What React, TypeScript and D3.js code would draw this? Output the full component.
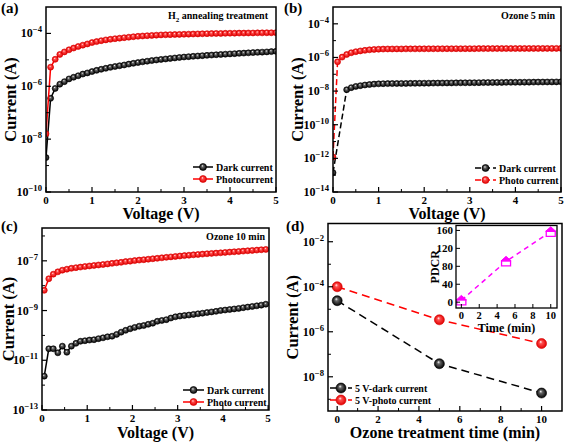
import React from "react";
import * as d3 from "d3";

const FONT = "'Liberation Serif','Times New Roman',Times,serif";

// ---------- data ----------
const voltageAB = [0, 0.1, 0.2, 0.3, 0.4, 0.5, 0.6, 0.7, 0.8, 0.9, 1.0, 1.1, 1.2, 1.3, 1.4, 1.5, 1.6, 1.7, 1.8, 1.9, 2.0, 2.1, 2.2, 2.3, 2.4, 2.5, 2.6, 2.7, 2.8, 2.9, 3.0, 3.1, 3.2, 3.3, 3.4, 3.5, 3.6, 3.7, 3.8, 3.9, 4.0, 4.1, 4.2, 4.3, 4.4, 4.5, 4.6, 4.7, 4.8, 4.9, 5.0];

const darkA = [2e-9, 3.5e-7, 8.3e-7, 1.2e-6, 1.5e-6, 1.9e-6, 2.2e-6, 2.5e-6, 2.9e-6, 3.2e-6, 3.6e-6, 4.0e-6, 4.4e-6, 4.8e-6, 5.2e-6, 5.6e-6, 6.0e-6, 6.4e-6, 6.9e-6, 7.4e-6, 7.9e-6, 8.4e-6, 8.9e-6, 9.4e-6, 9.9e-6, 1.04e-5, 1.08e-5, 1.13e-5, 1.18e-5, 1.23e-5, 1.28e-5, 1.32e-5, 1.36e-5, 1.40e-5, 1.44e-5, 1.48e-5, 1.52e-5, 1.56e-5, 1.60e-5, 1.64e-5, 1.68e-5, 1.72e-5, 1.76e-5, 1.80e-5, 1.84e-5, 1.88e-5, 1.92e-5, 1.96e-5, 2.0e-5, 2.05e-5, 2.1e-5];

const photoA = [1.6e-8, 5.3e-6, 1.05e-5, 1.6e-5, 2.0e-5, 2.4e-5, 2.8e-5, 3.2e-5, 3.6e-5, 4.0e-5, 4.5e-5, 4.9e-5, 5.3e-5, 5.7e-5, 6.0e-5, 6.3e-5, 6.6e-5, 6.9e-5, 7.2e-5, 7.5e-5, 7.8e-5, 8.0e-5, 8.2e-5, 8.4e-5, 8.6e-5, 8.8e-5, 8.9e-5, 9.0e-5, 9.1e-5, 9.2e-5, 9.3e-5, 9.4e-5, 9.5e-5, 9.6e-5, 9.7e-5, 9.8e-5, 9.9e-5, 1.0e-4, 1.0e-4, 1.01e-4, 1.02e-4, 1.02e-4, 1.03e-4, 1.03e-4, 1.04e-4, 1.04e-4, 1.05e-4, 1.05e-4, 1.06e-4, 1.06e-4, 1.07e-4];

const voltageBDark = [0, 0.3, 0.4, 0.5, 0.6, 0.7, 0.8, 0.9, 1.0, 1.1, 1.2, 1.3, 1.4, 1.5, 1.6, 1.7, 1.8, 1.9, 2.0, 2.1, 2.2, 2.3, 2.4, 2.5, 2.6, 2.7, 2.8, 2.9, 3.0, 3.1, 3.2, 3.3, 3.4, 3.5, 3.6, 3.7, 3.8, 3.9, 4.0, 4.1, 4.2, 4.3, 4.4, 4.5, 4.6, 4.7, 4.8, 4.9, 5.0];

const darkB = [1.4e-13, 1.2e-8, 1.6e-8, 1.9e-8, 2.1e-8, 2.3e-8, 2.45e-8, 2.6e-8, 2.7e-8, 2.75e-8, 2.78e-8, 2.8e-8, 2.82e-8, 2.84e-8, 2.86e-8, 2.88e-8, 2.9e-8, 2.92e-8, 2.94e-8, 2.96e-8, 2.98e-8, 3.0e-8, 3.02e-8, 3.04e-8, 3.06e-8, 3.08e-8, 3.1e-8, 3.12e-8, 3.14e-8, 3.16e-8, 3.18e-8, 3.2e-8, 3.22e-8, 3.24e-8, 3.26e-8, 3.28e-8, 3.3e-8, 3.32e-8, 3.34e-8, 3.36e-8, 3.38e-8, 3.4e-8, 3.42e-8, 3.44e-8, 3.46e-8, 3.48e-8, 3.5e-8, 3.52e-8, 3.54e-8];

const photoB = [1.2e-12, 5.5e-7, 1.05e-6, 1.5e-6, 1.9e-6, 2.2e-6, 2.45e-6, 2.65e-6, 2.85e-6, 3.0e-6, 3.1e-6, 3.15e-6, 3.2e-6, 3.2e-6, 3.22e-6, 3.22e-6, 3.24e-6, 3.24e-6, 3.25e-6, 3.26e-6, 3.27e-6, 3.28e-6, 3.28e-6, 3.29e-6, 3.3e-6, 3.3e-6, 3.31e-6, 3.32e-6, 3.32e-6, 3.33e-6, 3.34e-6, 3.34e-6, 3.35e-6, 3.36e-6, 3.36e-6, 3.37e-6, 3.38e-6, 3.38e-6, 3.39e-6, 3.4e-6, 3.4e-6, 3.41e-6, 3.42e-6, 3.42e-6, 3.43e-6, 3.44e-6, 3.44e-6, 3.45e-6, 3.46e-6, 3.46e-6, 3.47e-6];

const voltageC = [0.05, 0.15, 0.25, 0.35, 0.45, 0.55, 0.65, 0.75, 0.85, 0.95, 1.05, 1.15, 1.25, 1.35, 1.45, 1.55, 1.65, 1.75, 1.85, 1.95, 2.05, 2.15, 2.25, 2.35, 2.45, 2.55, 2.65, 2.75, 2.85, 2.95, 3.05, 3.15, 3.25, 3.35, 3.45, 3.55, 3.65, 3.75, 3.85, 3.95, 4.05, 4.15, 4.25, 4.35, 4.45, 4.55, 4.65, 4.75, 4.85, 4.95];

const darkC = [2.3e-12, 2.9e-11, 2.9e-11, 2.0e-11, 3.7e-11, 2.1e-11, 3.7e-11, 4.8e-11, 5.8e-11, 6.1e-11, 6.5e-11, 6.7e-11, 7.4e-11, 8.0e-11, 8.8e-11, 9.3e-11, 1.1e-10, 1.35e-10, 1.6e-10, 1.85e-10, 2.1e-10, 2.35e-10, 2.5e-10, 2.8e-10, 3.1e-10, 3.7e-10, 4.0e-10, 4.3e-10, 5.0e-10, 5.6e-10, 6.0e-10, 6.3e-10, 6.6e-10, 7.0e-10, 7.4e-10, 7.8e-10, 8.3e-10, 8.8e-10, 9.3e-10, 1.0e-9, 1.05e-9, 1.1e-9, 1.16e-9, 1.22e-9, 1.3e-9, 1.38e-9, 1.46e-9, 1.55e-9, 1.65e-9, 1.8e-9];

const photoC = [6.5e-9, 1.9e-8, 2.9e-8, 3.6e-8, 4.2e-8, 4.6e-8, 5.0e-8, 5.3e-8, 5.6e-8, 5.9e-8, 6.2e-8, 6.5e-8, 6.8e-8, 7.1e-8, 7.5e-8, 7.9e-8, 8.3e-8, 8.7e-8, 9.3e-8, 9.7e-8, 1.02e-7, 1.07e-7, 1.11e-7, 1.16e-7, 1.21e-7, 1.26e-7, 1.32e-7, 1.38e-7, 1.44e-7, 1.5e-7, 1.56e-7, 1.62e-7, 1.68e-7, 1.74e-7, 1.8e-7, 1.86e-7, 1.92e-7, 1.98e-7, 2.04e-7, 2.1e-7, 2.17e-7, 2.24e-7, 2.31e-7, 2.38e-7, 2.46e-7, 2.54e-7, 2.62e-7, 2.7e-7, 2.79e-7, 2.88e-7];

const ozoneTime = [0, 5, 10];
const dark5V = [2.4e-5, 3.8e-8, 1.9e-9];
const photo5V = [1.0e-4, 3.4e-6, 3.0e-7];
const pdcr = [4, 91, 157];

const voltTicks = [0, 1, 2, 3, 4, 5];
const voltMinor = [0.5, 1.5, 2.5, 3.5, 4.5];
const timeTicks = [0, 2, 4, 6, 8, 10];
const timeMinor = [1, 3, 5, 7, 9];
const pdcrTicks = [0, 40, 80, 120, 160];

// ---------- helpers ----------
type Box = { l: number; r: number; t: number; b: number };
type Ser = { xs: number[]; ys: number[]; kind: "dark" | "photo"; dash?: string; r: number; label: string };

const strokeOf = (k: string) => (k === "dark" ? "#000" : "#ff0000");
const gradOf = (k: string) => (k === "dark" ? "url(#gDark)" : "url(#gRed)");
const rimOf = (k: string) => (k === "dark" ? "#000" : "#d80000");

function Pow({ x, y, exp, size }: { x: number; y: number; exp: number; size: number }) {
  return (
    <text x={x} y={y} textAnchor="end" fontSize={size} fontWeight="bold" fontFamily={FONT}>
      10
      <tspan dy={-5} fontSize={size * 0.72}>{"\u2212" + Math.abs(exp)}</tspan>
    </text>
  );
}

type PanelProps = {
  id: string;
  box: Box;
  xDomain: [number, number];
  yDomain: [number, number];
  xTicks: number[];
  xMinor: number[];
  yLabelExps: number[];
  yMinorExps: number[];
  series: Ser[];
  tag: string;
  tagX: number;
  tagY: number;
  xTitle: string;
  xTitleY: number;
  yTitleX: number;
  note?: string | React.ReactNode;
  noteX?: number;
  noteY?: number;
  legX: number;
  legY: number;
  legGap: number;
  legLen: number;
  legFont: number;
  legR: number;
};

function Panel(p: PanelProps) {
  const { box } = p;
  const x = d3.scaleLinear().domain(p.xDomain).range([box.l, box.r]);
  const y = d3.scaleLog().domain(p.yDomain).range([box.b, box.t]);
  const lineGen = d3
    .line<[number, number]>()
    .x((d) => x(d[0]))
    .y((d) => y(d[1]));
  return (
    <g>
      <defs>
        <clipPath id={"clip" + p.id}>
          <rect x={box.l} y={box.t} width={box.r - box.l} height={box.b - box.t} />
        </clipPath>
      </defs>
      <g clipPath={`url(#clip${p.id})`}>
        {p.series.map((s, i) => {
          const pts = s.xs.map((v, j) => [v, s.ys[j]] as [number, number]);
          return (
            <g key={i}>
              <path d={lineGen(pts) || ""} fill="none" stroke={strokeOf(s.kind)} strokeWidth={1.5} strokeDasharray={s.dash} />
              {pts.map((d, j) => (
                <circle key={j} cx={x(d[0])} cy={y(d[1])} r={s.r} fill={gradOf(s.kind)} stroke={rimOf(s.kind)} strokeWidth={0.6} />
              ))}
            </g>
          );
        })}
      </g>
      {/* frame */}
      <rect x={box.l} y={box.t} width={box.r - box.l} height={box.b - box.t} fill="none" stroke="#000" strokeWidth={1.5} />
      {/* x ticks */}
      {p.xTicks.map((t) => (
        <g key={"xt" + t}>
          <line x1={x(t)} x2={x(t)} y1={box.b} y2={box.b - 5} stroke="#000" strokeWidth={1.2} />
          <text x={x(t)} y={box.b + 12} textAnchor="middle" fontSize={11} fontWeight="bold" fontFamily={FONT}>
            {t}
          </text>
        </g>
      ))}
      {p.xMinor.map((t) => (
        <line key={"xm" + t} x1={x(t)} x2={x(t)} y1={box.b} y2={box.b - 3} stroke="#000" strokeWidth={1} />
      ))}
      {/* y ticks */}
      {p.yLabelExps.map((e) => (
        <g key={"yt" + e}>
          <line x1={box.l} x2={box.l + 5} y1={y(Math.pow(10, e))} y2={y(Math.pow(10, e))} stroke="#000" strokeWidth={1.2} />
          <Pow x={box.l - 4} y={y(Math.pow(10, e)) + 4} exp={e} size={12} />
        </g>
      ))}
      {p.yMinorExps.map((e) => (
        <line key={"ym" + e} x1={box.l} x2={box.l + 3} y1={y(Math.pow(10, e))} y2={y(Math.pow(10, e))} stroke="#000" strokeWidth={1} />
      ))}
      {/* titles */}
      <text x={(box.l + box.r) / 2} y={p.xTitleY} textAnchor="middle" fontSize={16} fontWeight="bold" fontFamily={FONT}>
        {p.xTitle}
      </text>
      <text
        transform={`translate(${p.yTitleX},${(box.t + box.b) / 2}) rotate(-90)`}
        textAnchor="middle"
        fontSize={16.5}
        fontWeight="bold"
        fontFamily={FONT}
      >
        Current (A)
      </text>
      <text x={p.tagX} y={p.tagY} fontSize={15} fontWeight="bold" fontFamily={FONT}>
        {p.tag}
      </text>
      {p.note ? (
        <text x={p.noteX} y={p.noteY} textAnchor="end" fontSize={10} fontWeight="bold" fontFamily={FONT}>
          {p.note}
        </text>
      ) : null}
      {/* legend */}
      {p.series.map((s, i) => {
        const ly = p.legY + i * p.legGap;
        return (
          <g key={"lg" + i}>
            <line x1={p.legX} x2={p.legX + p.legLen} y1={ly} y2={ly} stroke={strokeOf(s.kind)} strokeWidth={1.5} strokeDasharray={s.dash ? "6,3" : undefined} />
            <circle cx={p.legX + p.legLen / 2} cy={ly} r={p.legR} fill={gradOf(s.kind)} stroke={rimOf(s.kind)} strokeWidth={0.6} />
            <text x={p.legX + p.legLen + 3} y={ly + 3.5} fontSize={p.legFont} fontWeight="bold" fontFamily={FONT}>
              {s.label}
            </text>
          </g>
        );
      })}
    </g>
  );
}

function Inset() {
  const box = { l: 456, r: 557, t: 225.5, b: 308 };
  const x = d3.scaleLinear().domain([-0.6, 10.7]).range([box.l, box.r]);
  const y = d3.scaleLinear().domain([-13, 171]).range([box.b, box.t]);
  const pts = ozoneTime.map((t, i) => [t, pdcr[i]] as [number, number]);
  const lineGen = d3
    .line<[number, number]>()
    .x((d) => x(d[0]))
    .y((d) => y(d[1]));
  const house = (cx: number, cy: number) => {
    const body = `M${cx - 4.5},${cy - 0.5} L${cx - 4.5},${cy + 4.5} L${cx + 4.5},${cy + 4.5} L${cx + 4.5},${cy - 0.5}`;
    const roof = `M${cx - 5},${cy - 0.5} L${cx},${cy - 5} L${cx + 5},${cy - 0.5} Z`;
    return { body, roof };
  };
  return (
    <g>
      <rect x={box.l} y={box.t} width={box.r - box.l} height={box.b - box.t} fill="#fff" stroke="none" />
      <path d={lineGen(pts) || ""} fill="none" stroke="#ff00ff" strokeWidth={1.5} strokeDasharray="5,4" />
      {pts.map((d, i) => {
        const h = house(x(d[0]), y(d[1]));
        return (
          <g key={i}>
            <path d={h.body + " Z"} fill="#fff" stroke="#ff00ff" strokeWidth={1.3} />
            <path d={h.roof} fill="#ff00ff" stroke="#ff00ff" strokeWidth={1} />
          </g>
        );
      })}
      <rect x={box.l} y={box.t} width={box.r - box.l} height={box.b - box.t} fill="none" stroke="#000" strokeWidth={1.3} />
      {timeTicks.map((t) => (
        <g key={"it" + t}>
          <line x1={x(t)} x2={x(t)} y1={box.b} y2={box.b - 4} stroke="#000" strokeWidth={1} />
          <text x={x(t)} y={box.b + 10.5} textAnchor="middle" fontSize={10.5} fontWeight="bold" fontFamily={FONT}>
            {t}
          </text>
        </g>
      ))}
      {pdcrTicks.map((t) => (
        <g key={"ip" + t}>
          <line x1={box.l} x2={box.l + 4} y1={y(t)} y2={y(t)} stroke="#000" strokeWidth={1} />
          <text x={box.l - 3} y={y(t) + 4} textAnchor="end" fontSize={11} fontWeight="bold" fontFamily={FONT}>
            {t}
          </text>
        </g>
      ))}
      <text x={(box.l + box.r) / 2} y={box.b + 23.5} textAnchor="middle" fontSize={12} fontWeight="bold" fontFamily={FONT}>
        Time (min)
      </text>
      <text transform={`translate(${439},${(box.t + box.b) / 2}) rotate(-90)`} textAnchor="middle" fontSize={12} fontWeight="bold" fontFamily={FONT}>
        PDCR
      </text>
    </g>
  );
}

export default function App() {
  return (
    <svg width={564} height={442} viewBox="0 0 564 442" style={{ display: "block", position: "absolute", left: 0, top: 0, background: "#fff" }}>
      <defs>
        <radialGradient id="gDark" cx="0.5" cy="0.5" r="0.5" fx="0.4" fy="0.32">
          <stop offset="0%" stopColor="#ffffff" />
          <stop offset="30%" stopColor="#666666" />
          <stop offset="100%" stopColor="#000000" />
        </radialGradient>
        <radialGradient id="gRed" cx="0.5" cy="0.5" r="0.5" fx="0.4" fy="0.32">
          <stop offset="0%" stopColor="#ffffff" />
          <stop offset="30%" stopColor="#ff5050" />
          <stop offset="100%" stopColor="#e00000" />
        </radialGradient>
      </defs>
      <rect x={0} y={0} width={564} height={442} fill="#fff" />
      <Panel
        id="a"
        box={{ l: 46, r: 276, t: 7, b: 192 }}
        xDomain={[0, 5]}
        yDomain={[1e-10, 1e-3]}
        xTicks={voltTicks}
        xMinor={voltMinor}
        yLabelExps={[-10, -8, -6, -4]}
        yMinorExps={[-9, -7, -5]}
        series={[
          { xs: voltageAB, ys: darkA, kind: "dark", r: 3, label: "Dark current" },
          { xs: voltageAB, ys: photoA, kind: "photo", r: 3, label: "Photocurrent" },
        ]}
        tag="(a)"
        tagX={1}
        tagY={13}
        xTitle="Voltage (V)"
        xTitleY={219}
        yTitleX={16}
        note={
          <>
            H<tspan fontSize={7} dy={3}>2</tspan>
            <tspan dy={-3}> annealing treatment</tspan>
          </>
        }
        noteX={268}
        noteY={19}
        legX={193}
        legY={167}
        legGap={12}
        legLen={20}
        legFont={10}
        legR={3.5}
      />
      <Panel
        id="b"
        box={{ l: 333, r: 561, t: 7, b: 192 }}
        xDomain={[0, 5]}
        yDomain={[1e-14, 1e-3]}
        xTicks={voltTicks}
        xMinor={voltMinor}
        yLabelExps={[-14, -12, -10, -8, -6, -4]}
        yMinorExps={[-13, -11, -9, -7, -5]}
        series={[
          { xs: voltageBDark, ys: darkB, kind: "dark", r: 3, dash: "6,3", label: "Dark current" },
          { xs: voltageAB, ys: photoB, kind: "photo", r: 3, dash: "6,3", label: "Photo current" },
        ]}
        tag="(b)"
        tagX={284}
        tagY={13}
        xTitle="Voltage (V)"
        xTitleY={219}
        yTitleX={303}
        note="Ozone 5 min"
        noteX={555}
        noteY={19}
        legX={475}
        legY={168}
        legGap={12}
        legLen={21}
        legFont={10}
        legR={3.5}
      />
      <Panel
        id="c"
        box={{ l: 42, r: 269, t: 228, b: 410 }}
        xDomain={[0, 5.02]}
        yDomain={[1e-13, Math.pow(10, -5.68)]}
        xTicks={voltTicks}
        xMinor={voltMinor}
        yLabelExps={[-13, -11, -9, -7]}
        yMinorExps={[-12, -10, -8, -6]}
        series={[
          { xs: voltageC, ys: darkC, kind: "dark", r: 3, label: "Dark current" },
          { xs: voltageC, ys: photoC, kind: "photo", r: 3, label: "Photo current" },
        ]}
        tag="(c)"
        tagX={1}
        tagY={231}
        xTitle="Voltage (V)"
        xTitleY={437.5}
        yTitleX={14}
        note="Ozone 10 min"
        noteX={265}
        noteY={240}
        legX={183}
        legY={390}
        legGap={12}
        legLen={21}
        legFont={10}
        legR={3.5}
      />
      <Panel
        id="d"
        box={{ l: 328, r: 562, t: 223.5, b: 411 }}
        xDomain={[-0.45, 11]}
        yDomain={[Math.pow(10, -9.52), Math.pow(10, -1.19)]}
        xTicks={timeTicks}
        xMinor={timeMinor}
        yLabelExps={[-8, -6, -4, -2]}
        yMinorExps={[-9, -7, -5, -3]}
        series={[
          { xs: ozoneTime, ys: dark5V, kind: "dark", r: 5, dash: "8,5", label: "5 V-dark current" },
          { xs: ozoneTime, ys: photo5V, kind: "photo", r: 5, dash: "8,5", label: "5 V-photo current" },
        ]}
        tag="(d)"
        tagX={286}
        tagY={231}
        xTitle="Ozone treatment time (min)"
        xTitleY={437.5}
        yTitleX={298}
        legX={330}
        legY={388}
        legGap={12}
        legLen={22}
        legFont={10}
        legR={5}
      />
      <Inset />
    </svg>
  );
}
